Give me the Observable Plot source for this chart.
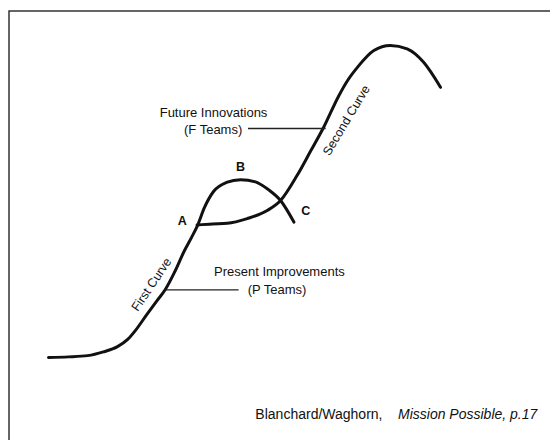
<!DOCTYPE html>
<html>
<head>
<meta charset="utf-8">
<script src="https://cdn.jsdelivr.net/npm/d3@7"></script>
<script src="https://cdn.jsdelivr.net/npm/@observablehq/plot@0.6"></script>
<style>
  html, body { margin: 0; padding: 0; background: #fff; overflow: hidden; }
  #chart svg { display: block; overflow: visible; }
</style>
</head>
<body>
<div id="chart"></div>
<script>
// ---- Data (abstract units: time 0–100, performance 0–100) ----
const firstCurveX = [0, 5.1, 10.0, 14.0, 17.6, 20.2, 22.2, 25.2, 27.6, 29.8, 32.1, 34.7, 36.5, 38.0, 39.8, 42.1, 45.4, 49.0, 52.8, 56.1, 59.2, 62.6];
const firstCurveY = [0, 0.2, 0.6, 1.8, 3.5, 5.8, 8.7, 14.0, 18.1, 21.8, 27.2, 34.3, 38.5, 42.3, 48.1, 53.2, 56.1, 57.0, 56.3, 53.8, 50.3, 43.4];

const secondCurveX = [37.9, 41.8, 45.6, 50.7, 55.8, 59.2, 63.4, 66.8, 70.2, 74.1, 76.3, 78.8, 83.0, 87.2, 91.5, 95.7, 100];
const secondCurveY = [42.5, 42.8, 43.0, 44.5, 47.1, 50.3, 58.3, 66.0, 73.8, 84.0, 88.8, 93.0, 98.4, 100, 98.9, 94.6, 86.6];

const pointLabels = ["A", "B", "C"];
const pointLabelX = [34.1, 49.0, 65.6];
const pointLabelY = [43.9, 61.0, 47.1];

const curveNames = ["First Curve", "Second Curve"];
const curveNameX = [26.3, 76.0];
const curveNameY = [23.4, 76.0];
const curveNameAngle = [-56, -59];

const teamLabels = ["Future Innovations", "(F Teams)", "Present Improvements", "(P Teams)"];
const teamLabelX = [42.1, 42.0, 58.9, 58.3];
const teamLabelY = [78.3, 73.0, 27.3, 21.7];

// leader lines: [x1, x2, y]
const leaderX1 = [50.9, 29.8];
const leaderX2 = [70.7, 48.5];
const leaderY = [73.4, 21.7];

const captionPlain = "Blanchard/Waghorn,";
const captionItalic = "Mission Possible, p.17";
const captionPlainX = 85.2;
const captionItalicX = 124.7;
const captionY = -18.3;

// ---- Build tables ----
const first = firstCurveX.map((x, i) => ({x, y: firstCurveY[i]}));
const second = secondCurveX.map((x, i) => ({x, y: secondCurveY[i]}));
const points = pointLabels.map((t, i) => ({t, x: pointLabelX[i], y: pointLabelY[i]}));
const names = curveNames.map((t, i) => ({t, x: curveNameX[i], y: curveNameY[i], a: curveNameAngle[i]}));
const teams = teamLabels.map((t, i) => ({t, x: teamLabelX[i], y: teamLabelY[i]}));
const leaders = leaderY.map((y, i) => ({x1: leaderX1[i], x2: leaderX2[i], y}));

const font = "'Liberation Sans', Arial, Helvetica, sans-serif";

const chart = Plot.plot({
  width: 550,
  height: 440,
  margin: 0,
  style: {fontFamily: font, background: "#fff"},
  x: {domain: [0, 100], range: [48, 440], axis: null},
  y: {domain: [0, 100], range: [357, 45], axis: null},
  marks: [
    Plot.frame({stroke: "#333", strokeWidth: 1.5, insetLeft: 8.5, insetTop: 10.5, insetRight: -20, insetBottom: -20}),
    Plot.line(first, {x: "x", y: "y", curve: "monotone-x", stroke: "#111", strokeWidth: 3}),
    Plot.line(second, {x: "x", y: "y", curve: "monotone-x", stroke: "#111", strokeWidth: 3}),
    Plot.link(leaders, {x1: "x1", x2: "x2", y1: "y", y2: "y", stroke: "#222", strokeWidth: 1.3}),
    Plot.text(points, {x: "x", y: "y", text: "t", fontSize: 12.5, fontWeight: "bold", fill: "#111"}),
    names.map(d => Plot.text([d], {x: "x", y: "y", text: "t", rotate: d.a, fontSize: 12.5, fill: "#111"})),
    Plot.text(teams, {x: "x", y: "y", text: "t", fontSize: 13, fill: "#111"}),
    Plot.text([captionPlain], {x: captionPlainX, y: captionY, text: d => d, textAnchor: "end", fontSize: 14, fill: "#111"}),
    Plot.text([captionItalic], {x: captionItalicX, y: captionY, text: d => d, textAnchor: "end", fontSize: 14, fontStyle: "italic", fill: "#111"})
  ]
});
document.getElementById("chart").append(chart);
</script>
</body>
</html>
